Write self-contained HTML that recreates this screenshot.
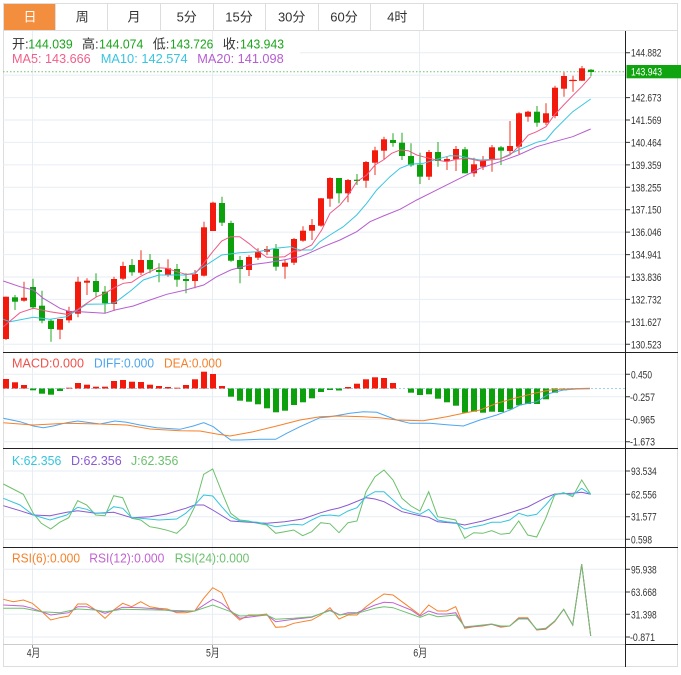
<!DOCTYPE html>
<html><head><meta charset="utf-8"><style>
html,body{margin:0;padding:0;background:#fff;width:681px;height:675px;overflow:hidden}
svg{display:block}
text{font-family:"Liberation Sans","Noto Sans CJK SC",sans-serif}
</style></head><body>
<svg width="681" height="675" viewBox="0 0 681 675" xmlns="http://www.w3.org/2000/svg">
<rect width="681" height="675" fill="#fff"/>
<!-- tabs -->
<rect x="4" y="4" width="51.5" height="26" fill="#F38E3E"/>
<rect x="3.5" y="3.5" width="674" height="663" fill="none" stroke="#DDDDDD"/>
<line x1="3.5" y1="30.5" x2="677.5" y2="30.5" stroke="#DDDDDD"/>
<g stroke="#DDDDDD">
<line x1="55.5" y1="3.5" x2="55.5" y2="30.5"/><line x1="107.5" y1="3.5" x2="107.5" y2="30.5"/>
<line x1="160.5" y1="3.5" x2="160.5" y2="30.5"/><line x1="213.5" y1="3.5" x2="213.5" y2="30.5"/>
<line x1="265.5" y1="3.5" x2="265.5" y2="30.5"/><line x1="318.5" y1="3.5" x2="318.5" y2="30.5"/>
<line x1="370.5" y1="3.5" x2="370.5" y2="30.5"/><line x1="423.5" y1="3.5" x2="423.5" y2="30.5"/>
</g>
<g font-size="13" text-anchor="middle" fill="#333">
<text x="30" y="21.5" fill="#fff">日</text><text x="82.3" y="21.5">周</text><text x="134" y="21.5">月</text>
<text x="186.7" y="21.5">5分</text><text x="239" y="21.5">15分</text><text x="291.7" y="21.5">30分</text>
<text x="344" y="21.5">60分</text><text x="397.3" y="21.5">4时</text>
</g>
<!-- grid -->
<g stroke="#E6EEF4" stroke-width="1">
<line x1="32.5" y1="31" x2="32.5" y2="644"/><line x1="212.5" y1="31" x2="212.5" y2="644"/><line x1="419.5" y1="31" x2="419.5" y2="644"/>
<line x1="300" y1="52.7" x2="625" y2="52.7"/>
<line x1="3" y1="75.1" x2="625" y2="75.1"/><line x1="3" y1="97.6" x2="625" y2="97.6"/><line x1="3" y1="120" x2="625" y2="120"/>
<line x1="3" y1="142.4" x2="625" y2="142.4"/><line x1="3" y1="164.9" x2="625" y2="164.9"/><line x1="3" y1="187.3" x2="625" y2="187.3"/>
<line x1="3" y1="209.7" x2="625" y2="209.7"/><line x1="3" y1="232.1" x2="625" y2="232.1"/><line x1="3" y1="254.6" x2="625" y2="254.6"/>
<line x1="3" y1="277" x2="625" y2="277"/><line x1="3" y1="299.4" x2="625" y2="299.4"/><line x1="3" y1="321.9" x2="625" y2="321.9"/>
<line x1="3" y1="344.3" x2="625" y2="344.3"/>
<line x1="3" y1="374.3" x2="625" y2="374.3"/><line x1="3" y1="396.8" x2="625" y2="396.8"/><line x1="3" y1="419.3" x2="625" y2="419.3"/><line x1="3" y1="441.7" x2="625" y2="441.7"/>
<line x1="3" y1="471" x2="625" y2="471"/><line x1="3" y1="494.3" x2="625" y2="494.3"/><line x1="3" y1="516.7" x2="625" y2="516.7"/><line x1="3" y1="539.3" x2="625" y2="539.3"/>
<line x1="3" y1="569.3" x2="625" y2="569.3"/><line x1="3" y1="592" x2="625" y2="592"/><line x1="3" y1="614.3" x2="625" y2="614.3"/><line x1="3" y1="637" x2="625" y2="637"/>
</g>
<!-- current price dotted -->
<line x1="3" y1="71.7" x2="626" y2="71.7" stroke="#6CC46C" stroke-dasharray="1.5,2"/>
<!-- legend main -->
<g font-size="13">
<text x="12" y="48.5" fill="#333">开:</text><text x="28.3" y="48.5" fill="#1AA51A" textLength="44.4" lengthAdjust="spacingAndGlyphs">144.039</text>
<text x="82" y="48.5" fill="#333">高:</text><text x="99" y="48.5" fill="#1AA51A" textLength="44.3" lengthAdjust="spacingAndGlyphs">144.074</text>
<text x="152.7" y="48.5" fill="#333">低:</text><text x="170" y="48.5" fill="#1AA51A" textLength="43.3" lengthAdjust="spacingAndGlyphs">143.726</text>
<text x="222.7" y="48.5" fill="#333">收:</text><text x="240" y="48.5" fill="#1AA51A" textLength="44" lengthAdjust="spacingAndGlyphs">143.943</text>
<text x="12" y="63" fill="#F0608A" textLength="78.7" lengthAdjust="spacingAndGlyphs">MA5: 143.666</text>
<text x="100.7" y="63" fill="#39C5E0" textLength="87" lengthAdjust="spacingAndGlyphs">MA10: 142.574</text>
<text x="197.3" y="63" fill="#B65DD0" textLength="86.4" lengthAdjust="spacingAndGlyphs">MA20: 141.098</text>
<text x="12" y="367.3" fill="#F0504A" textLength="72" lengthAdjust="spacingAndGlyphs">MACD:0.000</text>
<text x="94" y="367.3" fill="#4AA5F0" textLength="60" lengthAdjust="spacingAndGlyphs">DIFF:0.000</text>
<text x="164" y="367.3" fill="#F5812A" textLength="57.7" lengthAdjust="spacingAndGlyphs">DEA:0.000</text>
<text x="12" y="465" fill="#33C5DD" textLength="49.3" lengthAdjust="spacingAndGlyphs">K:62.356</text>
<text x="71" y="465" fill="#8A5AD0" textLength="50.7" lengthAdjust="spacingAndGlyphs">D:62.356</text>
<text x="131" y="465" fill="#6CC06C" textLength="47.3" lengthAdjust="spacingAndGlyphs">J:62.356</text>
<text x="12" y="562.3" fill="#F5822A" textLength="68" lengthAdjust="spacingAndGlyphs">RSI(6):0.000</text>
<text x="89.3" y="562.3" fill="#C262D2" textLength="75" lengthAdjust="spacingAndGlyphs">RSI(12):0.000</text>
<text x="174.7" y="562.3" fill="#6CC06C" textLength="74.6" lengthAdjust="spacingAndGlyphs">RSI(24):0.000</text>
</g>
<!-- candles red -->
<g stroke="#F2331F" stroke-width="1">
<path d="M6 296.7V340M24 281.7V301.7M60 319V339.3M69 306.7V322.7M78 276.7V317.3M87 278.3V295M114 276.7V310.7M123 261.7V280M141 250.3V275M168 259.3V276.7M195 270V288.3M204 221.7V276.5M213 201.7V231M249 255.3V276M258 248.3V260M267 246V255M285 260V278.7M294 238V265M303 226.3V241.7M312 219V240M321 198V226.7M330 177.3V206.7M348 179V202.3M366 161V187.7M375 146.7V175M384 136.7V160M429 150V180M447 156.7V170M456 146V171M474 157.7V176.7M483 156V170M492 145V171.7M510 121V155M519 112.3V154M528 110.7V121.7M546 103.3V125M555 85.7V118.3M564 72.3V96.7M573 75.7V91.7M569 80.5H577M582 66V81"/>
</g>
<g fill="#F21A0C">
<rect x="3" y="296.7" width="6" height="42.3"/><rect x="21" y="297.7" width="6" height="3"/>
<rect x="57" y="319" width="6" height="10.7"/><rect x="66" y="311" width="6" height="9.3"/>
<rect x="75" y="281.7" width="6" height="32"/><rect x="84" y="280.7" width="6" height="2"/>
<rect x="111" y="279" width="6" height="25"/><rect x="120" y="266" width="6" height="12.7"/>
<rect x="138" y="260" width="6" height="12.7"/><rect x="165" y="268.3" width="6" height="6.7"/>
<rect x="192" y="274" width="6" height="7"/><rect x="201" y="227.3" width="6" height="48.4"/>
<rect x="210" y="202.7" width="6" height="28.3"/><rect x="246" y="257" width="6" height="13"/>
<rect x="255" y="251.7" width="6" height="6"/><rect x="264" y="249" width="6" height="2.7"/>
<rect x="282" y="262.7" width="6" height="4"/><rect x="291" y="239" width="6" height="23.7"/>
<rect x="300" y="230.7" width="6" height="10"/><rect x="309" y="225" width="6" height="5.7"/>
<rect x="318" y="198.3" width="6" height="27.4"/><rect x="327" y="178" width="6" height="20.7"/>
<rect x="345" y="180" width="6" height="13.3"/><rect x="363" y="162" width="6" height="18.7"/>
<rect x="372" y="150.3" width="6" height="12.4"/><rect x="381" y="139.3" width="6" height="11.4"/>
<rect x="426" y="152" width="6" height="24.7"/><rect x="444" y="159" width="6" height="2"/>
<rect x="453" y="149" width="6" height="10.3"/><rect x="471" y="164.3" width="6" height="9"/>
<rect x="480" y="160.3" width="6" height="6.4"/><rect x="489" y="147.3" width="6" height="12"/>
<rect x="507" y="146" width="6" height="5"/><rect x="516" y="113.3" width="6" height="33.4"/>
<rect x="525" y="111.7" width="6" height="5"/><rect x="543" y="113.3" width="6" height="9.4"/>
<rect x="552" y="87.7" width="6" height="28.3"/><rect x="561" y="76" width="6" height="12.7"/>
<rect x="570" y="79.8" width="6" height="1.3"/><rect x="579" y="68.3" width="6" height="12.4"/>
</g>
<!-- candles green -->
<g stroke="#22A822" stroke-width="1">
<path d="M15 295V310M33 278.7V309.3M42 290.7V323.3M51 319.3V341.7M96 273.3V296.7M105 286V313.3M132 259V275.7M150 254V273.3M159 263.3V282.3M177 264V286.7M186 273.3V293.3M222 196.7V226M231 220.7V261.7M240 256V283.3M276 244V270.7M339 178V203.3M357 174V185M393 133.3V146.7M402 132.7V160M411 143.3V166.7M420 152.7V184M438 142V166.7M465 147V173.5M501 146V165M537 106V126.7M591 69.1V76.2"/>
</g>
<g fill="#0DA00D">
<rect x="12" y="297.3" width="6" height="4.4"/><rect x="30" y="287" width="6" height="20.3"/>
<rect x="39" y="305.7" width="6" height="15"/><rect x="48" y="320.7" width="6" height="8.3"/>
<rect x="93" y="281" width="6" height="11"/><rect x="102" y="291.7" width="6" height="11.6"/>
<rect x="129" y="265" width="6" height="7.3"/><rect x="147" y="260" width="6" height="9.3"/>
<rect x="156" y="270" width="6" height="2"/><rect x="174" y="269" width="6" height="10.7"/>
<rect x="183" y="279" width="6" height="2"/><rect x="219" y="203" width="6" height="19.7"/>
<rect x="228" y="223" width="6" height="37.7"/><rect x="237" y="260" width="6" height="9"/>
<rect x="273" y="249" width="6" height="17.7"/><rect x="336" y="178" width="6" height="15.3"/>
<rect x="354" y="179.7" width="6" height="1.3"/><rect x="390" y="140" width="6" height="3"/>
<rect x="399" y="142.7" width="6" height="13.3"/><rect x="408" y="156" width="6" height="9.3"/>
<rect x="417" y="164.7" width="6" height="12"/><rect x="435" y="152" width="6" height="9"/>
<rect x="462" y="149.3" width="6" height="24"/><rect x="498" y="147.3" width="6" height="3.4"/>
<rect x="534" y="111.7" width="6" height="11"/><rect x="588" y="69.7" width="6" height="2.3"/>
</g>
<!-- MA lines -->
<g fill="none" stroke-width="1">
<polyline stroke="#B65DD0" points="3.3,281 20,286.7 33.3,290 43.3,298.3 60,308.3 70,311.7 80,311.7 105,313.3 115,310 133.3,306 150,300 166.7,294.3 185.7,290 203.7,285 216.7,276.7 230.7,270 248.7,265 266.7,262.7 283.3,260 300,256.7 310,252.7 323.3,246.7 340,240 356.7,231.7 370,221.7 383.3,216 400,209.3 416.7,200 433.3,191.7 450,183.3 470,173.3 480,168.3 500,161.7 518.3,155 536.7,146.7 554.3,141.7 572.7,136.7 590.7,129"/>
<polyline stroke="#39C5E0" points="3.3,319.3 10,321.7 33.3,317.3 50,319.3 66.7,316.7 86.7,304.3 105,304 115,302.7 131.7,290 143.3,280 158.7,275 185.7,275 194.7,272.7 203.7,266.7 221.7,255 239.7,252.7 257.7,251.7 275.7,248.3 290,246.7 300,250 311.7,250 320,241.7 330,235 343.3,226.7 356.7,215 366.7,203.3 376.7,190 390,176.7 400,168.3 410,164.3 423.3,163.3 436.7,159.3 450,155.7 460,156 470,158.3 480,160 500,159 518.3,150 536.7,142.3 546,140 554.3,130 572.7,111.7 590.7,99"/>
<polyline stroke="#EF5A85" points="3.3,326.7 20,312.7 33.3,308.3 50,311.7 66.7,314.3 76.7,310 86.7,303.3 96.7,296.7 105,293.3 115,287.3 123.3,283.3 131.7,282.3 140,276.7 150,271.7 158.3,267.7 166.7,268.3 176.7,271.7 185.7,274.3 194.7,274.3 203.7,263.3 212.7,251.7 221.7,241 230.7,236.7 239.7,236.7 248.7,243.3 257.7,250.7 266.7,257.3 275.7,257.3 284.7,256.7 293.7,251 300,250.7 311.7,245 321.7,230 330,213.3 340,205 348.3,195 356.7,181.7 366.7,175 375,165 383.3,160 391.7,153.3 400,150 408.3,150.7 416.7,155 426.7,157.7 436.7,160 446.7,161.7 456.7,159.3 466.7,158.3 480,161 500,159 510,155 518.3,146.7 528.3,135 536.7,131.7 546,126.7 554.3,115 563.7,105 572.7,95.7 581.7,86.7 590.7,76.7"/>
</g>
<!-- MACD -->
<line x1="3" y1="388.5" x2="626" y2="388.5" stroke="#9DD3EE" stroke-dasharray="2,2"/>
<g fill="#F21A0C">
<rect x="3" y="379" width="6" height="9.5"/><rect x="12" y="382.3" width="6" height="6.2"/><rect x="21" y="385" width="6" height="3.5"/>
<rect x="66" y="387.7" width="6" height="0.8"/><rect x="75" y="383" width="6" height="5.5"/><rect x="84" y="384.7" width="6" height="3.8"/>
<rect x="93" y="386.7" width="6" height="1.8"/><rect x="102" y="386.7" width="6" height="1.8"/><rect x="111" y="381" width="6" height="7.5"/>
<rect x="120" y="380" width="6" height="8.5"/><rect x="129" y="381.7" width="6" height="6.8"/><rect x="138" y="382" width="6" height="6.5"/>
<rect x="147" y="384.7" width="6" height="3.8"/><rect x="156" y="386" width="6" height="2.5"/><rect x="165" y="387" width="6" height="1.5"/>
<rect x="174" y="387.7" width="6" height="0.8"/><rect x="183" y="385" width="6" height="3.5"/><rect x="192" y="379.3" width="6" height="9.2"/>
<rect x="201" y="371.7" width="6" height="16.8"/><rect x="210" y="374" width="6" height="14.5"/><rect x="219" y="386" width="6" height="2.5"/>
<rect x="345" y="387" width="6" height="1.5"/><rect x="354" y="383.7" width="6" height="4.8"/><rect x="363" y="379.3" width="6" height="9.2"/>
<rect x="372" y="377.3" width="6" height="11.2"/><rect x="381" y="378" width="6" height="10.5"/><rect x="390" y="383" width="6" height="5.5"/>
</g>
<g fill="#0DA00D">
<rect x="30" y="388.5" width="6" height="1.8"/><rect x="39" y="388.5" width="6" height="5.2"/><rect x="48" y="388.5" width="6" height="6.2"/>
<rect x="57" y="388.5" width="6" height="2.5"/><rect x="228" y="388.5" width="6" height="8.2"/><rect x="237" y="388.5" width="6" height="12.2"/>
<rect x="246" y="388.5" width="6" height="13.2"/><rect x="255" y="388.5" width="6" height="15.8"/><rect x="264" y="388.5" width="6" height="19.8"/>
<rect x="273" y="388.5" width="6" height="23.8"/><rect x="282" y="388.5" width="6" height="22.2"/><rect x="291" y="388.5" width="6" height="16.5"/>
<rect x="300" y="388.5" width="6" height="13.8"/><rect x="309" y="388.5" width="6" height="9.8"/><rect x="318" y="388.5" width="6" height="3.5"/>
<rect x="327" y="388.5" width="6" height="1.5"/><rect x="336" y="388.5" width="6" height="2"/>
<rect x="408" y="388.5" width="6" height="4.2"/><rect x="417" y="388.5" width="6" height="6.5"/><rect x="426" y="388.5" width="6" height="5.8"/>
<rect x="435" y="388.5" width="6" height="10.2"/><rect x="444" y="388.5" width="6" height="13.8"/><rect x="453" y="388.5" width="6" height="17.2"/>
<rect x="462" y="388.5" width="6" height="24.2"/><rect x="471" y="388.5" width="6" height="23.2"/><rect x="480" y="388.5" width="6" height="24.2"/>
<rect x="489" y="388.5" width="6" height="23.2"/><rect x="498" y="388.5" width="6" height="23.5"/><rect x="507" y="388.5" width="6" height="20.8"/>
<rect x="516" y="388.5" width="6" height="16.8"/><rect x="525" y="388.5" width="6" height="15.5"/><rect x="534" y="388.5" width="6" height="15.5"/>
<rect x="543" y="388.5" width="6" height="10.8"/><rect x="552" y="388.5" width="6" height="4.2"/><rect x="561" y="388.5" width="6" height="1.8"/>
<rect x="570" y="388.5" width="6" height="0.8"/><rect x="579" y="388.5" width="6" height="0.5"/>
</g>
<g fill="none" stroke-width="1">
<polyline stroke="#4DA6F0" points="3.3,418.3 20,421.7 33.3,426 43.3,427.7 53.3,426 66.7,422.7 77.7,421 86.7,422.3 100,424 115,421 126.7,422.3 140,425 156.7,427.7 180,429.3 193.3,426 203.7,422.7 213.3,426.7 221.7,433.3 230.7,440 239.7,440 260,439.3 275.7,439.3 286.7,433.3 300,426.7 320,417.7 330,416.7 350,413.3 363.3,411.7 376.7,412.3 396.7,420 410,423.3 430,423.3 446.7,424.7 463.3,426 480,420 496.7,415 510,410 520,405 536.7,401.7 550,393.3 563.3,390 576.7,389 590,388.7"/>
<polyline stroke="#F5812A" points="3.3,422.7 33.3,425 66.7,423.3 100,424 126.7,425 150,429 180,430.7 200,431 216.7,434 230,436 253.3,431.7 276.7,426 300,420 320,416.7 340,416 363.3,416.7 380,417.7 396.7,420 423.3,420.7 446.7,416.7 463.3,413.3 480,410 496.7,403.3 516.7,397.7 536.7,392.7 550,390 570,388.7 590,388.3"/>
</g>
<!-- KDJ -->
<g fill="none" stroke-width="1">
<polyline stroke="#6CC06C" points="3.3,484 23.3,494.3 33.3,513.3 41.3,523.3 50.7,529 59.7,522.3 68.7,517.7 77.7,500.7 86.7,505 95.7,515 105,515.7 113.7,495.7 122.7,497.7 131.7,518.3 140.7,520 149.7,526.7 158.7,528.3 167.3,530.3 176.7,533.3 185.7,525 194.7,506.7 203.7,474.3 212.7,469 221.7,491.7 230.7,513.3 239.7,520 248.7,521 257.7,523.3 266.7,525 275.7,533.3 284.7,531.7 293.7,530 302.7,535.7 311.7,531.7 320.7,522.7 330,523.8 339,532.7 348,522.7 357,521 366,491.7 375,476.7 384,470 393,480 402,498.3 411,506 420,511 428.7,491.7 437.7,516.7 446.7,518.3 455.7,520 464.7,538.3 473.7,532.7 482.7,533.3 491.7,530.7 500.7,534.3 509.7,533.3 518.7,521 527.7,535 536.7,537 545.7,518.3 554.7,495 563.7,492.7 572.7,496.7 581.7,480 590.7,494.3"/>
<polyline stroke="#8A5AD0" points="3.3,505.7 20,510.7 33.3,515 50,515.7 66.7,512.3 77.7,510.7 95.7,513.3 113.7,512.3 131.7,517.7 150,516.7 166.7,514 185.7,508.3 194.7,505 203.7,505 212.7,510 230.7,521 248.7,522.3 266.7,523.3 284.7,521.7 302.7,519 320.7,512.7 330,510 339,508 348,505 366,497.7 375,499 384,501.7 402,511.7 420,515.7 428.7,517.3 437.7,521.7 455.7,523.3 464.7,525 482.7,521 500.7,515.7 518.7,510 527.7,507 536.7,502.3 545.7,497.7 554.7,494 572.7,493.3 581.7,492.3 590.7,494.3"/>
<polyline stroke="#33C5DD" points="3.3,498.3 20,505 33.3,515 50,520 66.7,515 77.7,507.3 86.7,509.3 95.7,513.3 105,513.3 113.7,506.7 122.7,508.3 131.7,517.7 140.7,518.3 158.7,520 176.7,519 185.7,513.3 194.7,505 203.7,495 212.7,496 221.7,506.7 230.7,516.7 239.7,521 257.7,522.3 266.7,524.3 275.7,526.7 293.7,524.3 302.7,525 311.7,520 320.7,515.7 330,515 339,516 348,511 357,507.7 366,496.7 375,491.7 384,491.7 393,500 402,508.3 411,511.7 420,514.3 428.7,509.3 437.7,520 446.7,521.7 455.7,522.7 464.7,529 473.7,526.7 482.7,525 491.7,522.3 500.7,522.3 509.7,520 518.7,513.3 527.7,516 536.7,514.3 545.7,505 554.7,494.3 563.7,493.3 572.7,495 581.7,488.3 590.7,494.3"/>
</g>
<!-- RSI -->
<g fill="none" stroke-width="1">
<polyline stroke="#F5822A" points="3.3,599.3 13.3,601.7 23.3,600 32.3,603.3 41.3,611 50.7,620 59.7,617.7 68.7,616 77.7,604 86.7,604 95.7,610 105,618.3 113.7,610 122.7,603.3 131.7,606.7 140.7,601.7 149.7,606.7 158.7,608.3 167.3,609 176.7,612.7 185.7,612.7 194.7,611 203.7,598.3 212.7,587.7 221.7,592.7 230.7,611.7 239.7,620 248.7,615 257.7,615 266.7,614 275.7,627.3 284.7,626.7 293.7,623.3 311.7,620 320.7,615 330,607.7 339,619 348,615 357,615 366,606.7 375,600 384,594 393,595 402,601.7 411,608.3 420,615 428.7,605 437.7,611 446.7,611 455.7,606.7 464.7,628.3 473.7,626.7 482.7,626 491.7,624.3 500.7,627.3 509.7,626 518.7,617.7 527.7,617.7 536.7,630 545.7,629.3 554.7,621.7 563.7,609.3 572.7,625 581.7,564.3 590.7,636"/>
<polyline stroke="#C262D2" points="3.3,605 23.3,606 32.3,608.3 41.3,611.7 50.7,615 68.7,612.7 77.7,606.7 86.7,606.7 105,613.3 122.7,607.3 140.7,607.7 158.7,609 176.7,611.7 194.7,611 212.7,599.3 221.7,603.3 239.7,618.3 257.7,616 266.7,615 275.7,621.7 293.7,619.3 311.7,617.3 330,610 340,615 348,612.7 357,612.7 375,605 384,602.3 393,602.7 411,610 420,616 428.7,611 437.7,614 446.7,614 455.7,612.7 464.7,627.3 473.7,626.5 491.7,624.3 500.7,626.5 509.7,626 518.7,618.5 527.7,618.5 536.7,629.7 545.7,628.8 554.7,621.3 563.7,609.3 572.7,625 581.7,564.3 590.7,636"/>
<polyline stroke="#6CC06C" points="3.3,608.3 23.3,608.3 41.3,611.7 60,612.7 77.7,609 95.7,610 105,611.7 122.7,609.3 158.7,610 194.7,611 212.7,605 230.7,611.7 239.7,616 266.7,615 275.7,619.3 293.7,618.3 311.7,616.7 330,610.7 339,615 357,613.3 375,608.3 384,606.7 393,607.7 420,617.3 428.7,614 437.7,616.7 455.7,615 464.7,626.7 473.7,626 491.7,624 500.7,626 509.7,626 518.7,619 527.7,619 536.7,629.3 545.7,628.3 554.7,621 563.7,609.3 572.7,625 581.7,564.3 590.7,636"/>
</g>
<!-- panel separators & axis -->
<g stroke="#222" stroke-width="1">
<line x1="3" y1="352.5" x2="678" y2="352.5"/><line x1="3" y1="448.5" x2="678" y2="448.5"/><line x1="3" y1="547.5" x2="678" y2="547.5"/>
<line x1="626" y1="644.5" x2="678" y2="644.5"/>
<line x1="625.5" y1="31" x2="625.5" y2="667"/>
</g>
<line x1="3" y1="644.5" x2="625" y2="644.5" stroke="#CCCCCC"/>
<g stroke="#999" stroke-width="1">
<line x1="32.5" y1="645" x2="32.5" y2="648"/><line x1="212.5" y1="645" x2="212.5" y2="648"/><line x1="419.5" y1="645" x2="419.5" y2="648"/>
</g>
<!-- axis ticks -->
<g stroke="#333" stroke-width="1">
<path d="M626 52.7H630M626 97.6H630M626 120H630M626 142.4H630M626 164.9H630M626 187.3H630M626 209.7H630M626 232.1H630M626 254.6H630M626 277H630M626 299.4H630M626 321.9H630M626 344.3H630M626 374.3H630M626 396.8H630M626 419.3H630M626 441.7H630M626 471H630M626 494.3H630M626 516.7H630M626 539.3H630M626 569.3H630M626 592H630M626 614.3H630M626 637H630"/>
</g>
<!-- price tag -->
<rect x="626.5" y="65" width="54.5" height="13.3" fill="#11A411"/>
<g font-size="11" fill="#333">
<text x="631" y="75.5" fill="#fff" textLength="31" lengthAdjust="spacingAndGlyphs">143.943</text>
<text x="631" y="56.7" textLength="30.5" lengthAdjust="spacingAndGlyphs">144.882</text>
<text x="631" y="101.6" textLength="30.5" lengthAdjust="spacingAndGlyphs">142.673</text>
<text x="631" y="124" textLength="30.5" lengthAdjust="spacingAndGlyphs">141.569</text>
<text x="631" y="146.4" textLength="30.5" lengthAdjust="spacingAndGlyphs">140.464</text>
<text x="631" y="168.9" textLength="30.5" lengthAdjust="spacingAndGlyphs">139.359</text>
<text x="631" y="191.3" textLength="30.5" lengthAdjust="spacingAndGlyphs">138.255</text>
<text x="631" y="213.7" textLength="30.5" lengthAdjust="spacingAndGlyphs">137.150</text>
<text x="631" y="236.1" textLength="30.5" lengthAdjust="spacingAndGlyphs">136.046</text>
<text x="631" y="258.6" textLength="30.5" lengthAdjust="spacingAndGlyphs">134.941</text>
<text x="631" y="281" textLength="30.5" lengthAdjust="spacingAndGlyphs">133.836</text>
<text x="631" y="303.4" textLength="30.5" lengthAdjust="spacingAndGlyphs">132.732</text>
<text x="631" y="325.9" textLength="30.5" lengthAdjust="spacingAndGlyphs">131.627</text>
<text x="631" y="348.3" textLength="30.5" lengthAdjust="spacingAndGlyphs">130.523</text>
<text x="631" y="378.3" textLength="21" lengthAdjust="spacingAndGlyphs">0.450</text>
<text x="630" y="400.8" textLength="25" lengthAdjust="spacingAndGlyphs">-0.257</text>
<text x="630" y="423.3" textLength="25" lengthAdjust="spacingAndGlyphs">-0.965</text>
<text x="630" y="445.7" textLength="25" lengthAdjust="spacingAndGlyphs">-1.673</text>
<text x="631" y="475" textLength="25.7" lengthAdjust="spacingAndGlyphs">93.534</text>
<text x="631" y="498.3" textLength="25.7" lengthAdjust="spacingAndGlyphs">62.556</text>
<text x="631" y="520.7" textLength="25.7" lengthAdjust="spacingAndGlyphs">31.577</text>
<text x="631" y="543.3" textLength="21" lengthAdjust="spacingAndGlyphs">0.598</text>
<text x="631" y="573.3" textLength="25.7" lengthAdjust="spacingAndGlyphs">95.938</text>
<text x="631" y="596" textLength="25.7" lengthAdjust="spacingAndGlyphs">63.668</text>
<text x="631" y="618.3" textLength="25.7" lengthAdjust="spacingAndGlyphs">31.398</text>
<text x="630" y="641" textLength="25" lengthAdjust="spacingAndGlyphs">-0.871</text>
<text x="26.7" y="656.5" textLength="13.5" lengthAdjust="spacingAndGlyphs">4月</text>
<text x="206" y="656.5" textLength="13.5" lengthAdjust="spacingAndGlyphs">5月</text>
<text x="413.3" y="656.5" textLength="14" lengthAdjust="spacingAndGlyphs">6月</text>
</g>
</svg>
</body></html>
